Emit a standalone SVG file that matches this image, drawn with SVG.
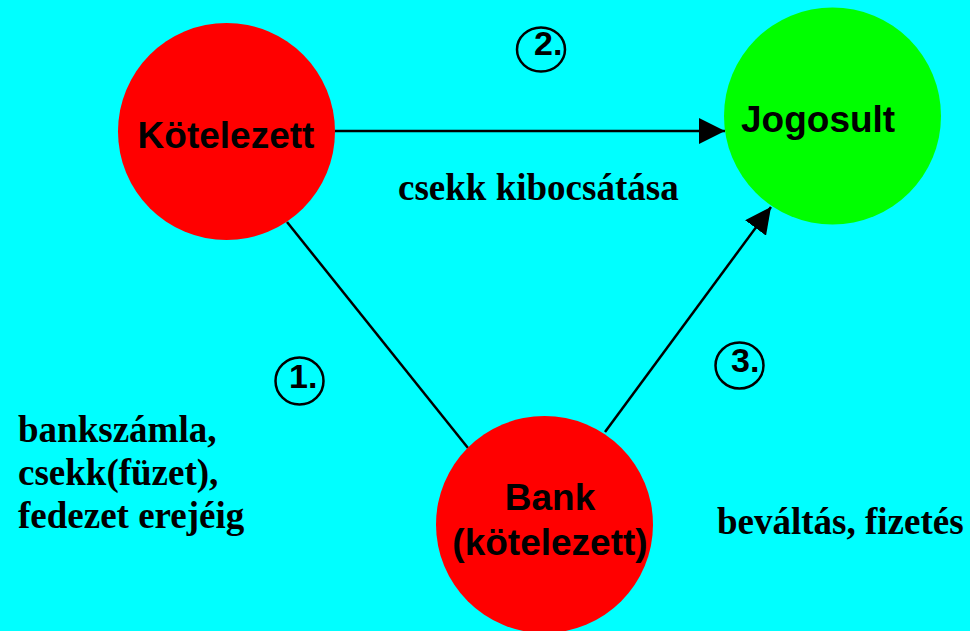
<svg xmlns="http://www.w3.org/2000/svg" width="970" height="631" viewBox="0 0 970 631">
  <defs>
    <style>
      .node-label { font-family: "Liberation Sans", Arial, sans-serif; font-weight: bold; font-size: 37px; fill: #000; }
      .num { font-family: "Liberation Sans", Arial, sans-serif; font-weight: bold; font-size: 34px; fill: #000; }
      .note { font-family: "Liberation Serif", "Times New Roman", serif; font-weight: bold; font-size: 37px; fill: #000; }
      .conn { stroke: #000; stroke-width: 2.5; fill: none; }
      .badge { fill: none; stroke: #000; stroke-width: 2.5; }
    </style>
    <marker id="arrow" markerUnits="userSpaceOnUse" markerWidth="26" markerHeight="26" refX="26" refY="13" orient="auto">
      <path d="M0,0 L26,13 L0,26 z" fill="#000"/>
    </marker>
  </defs>
  <rect x="0" y="0" width="970" height="631" fill="#00FFFF"/>

  <g id="connectors">
    <line class="conn" x1="335" y1="131" x2="725" y2="131" marker-end="url(#arrow)"/>
    <line class="conn" x1="287" y1="222" x2="468" y2="448"/>
    <line class="conn" x1="605" y1="432" x2="771" y2="207" marker-end="url(#arrow)"/>
  </g>

  <g id="node-kotelezett">
    <circle cx="226.5" cy="131.5" r="108.5" fill="#FF0000"/>
    <text class="node-label" x="226" y="148" text-anchor="middle">Kötelezett</text>
  </g>

  <g id="node-jogosult">
    <circle cx="832.5" cy="116" r="108.5" fill="#00FF00"/>
    <text class="node-label" x="741" y="132">Jogosult</text>
  </g>

  <g id="node-bank">
    <circle cx="544.5" cy="524.5" r="108.5" fill="#FF0000"/>
    <text class="node-label" x="550" y="510" text-anchor="middle">Bank</text>
    <text class="node-label" x="550" y="555" text-anchor="middle">(kötelezett)</text>
  </g>

  <g id="badge-2">
    <ellipse class="badge" cx="541" cy="49.5" rx="24" ry="22"/>
    <text class="num" x="534" y="55">2.</text>
  </g>
  <g id="badge-1">
    <ellipse class="badge" cx="299.5" cy="381" rx="24" ry="23.5"/>
    <text class="num" x="289" y="388">1.</text>
  </g>
  <g id="badge-3">
    <ellipse class="badge" cx="739.5" cy="365.5" rx="24" ry="23"/>
    <text class="num" x="731" y="372">3.</text>
  </g>

  <g id="labels">
    <text class="note" x="398" y="200">csekk kibocsátása</text>
    <text class="note" x="18" y="442">bankszámla,</text>
    <text class="note" x="18" y="485">csekk(füzet),</text>
    <text class="note" x="18" y="528">fedezet erejéig</text>
    <text class="note" x="717" y="534">beváltás, fizetés</text>
  </g>
</svg>
